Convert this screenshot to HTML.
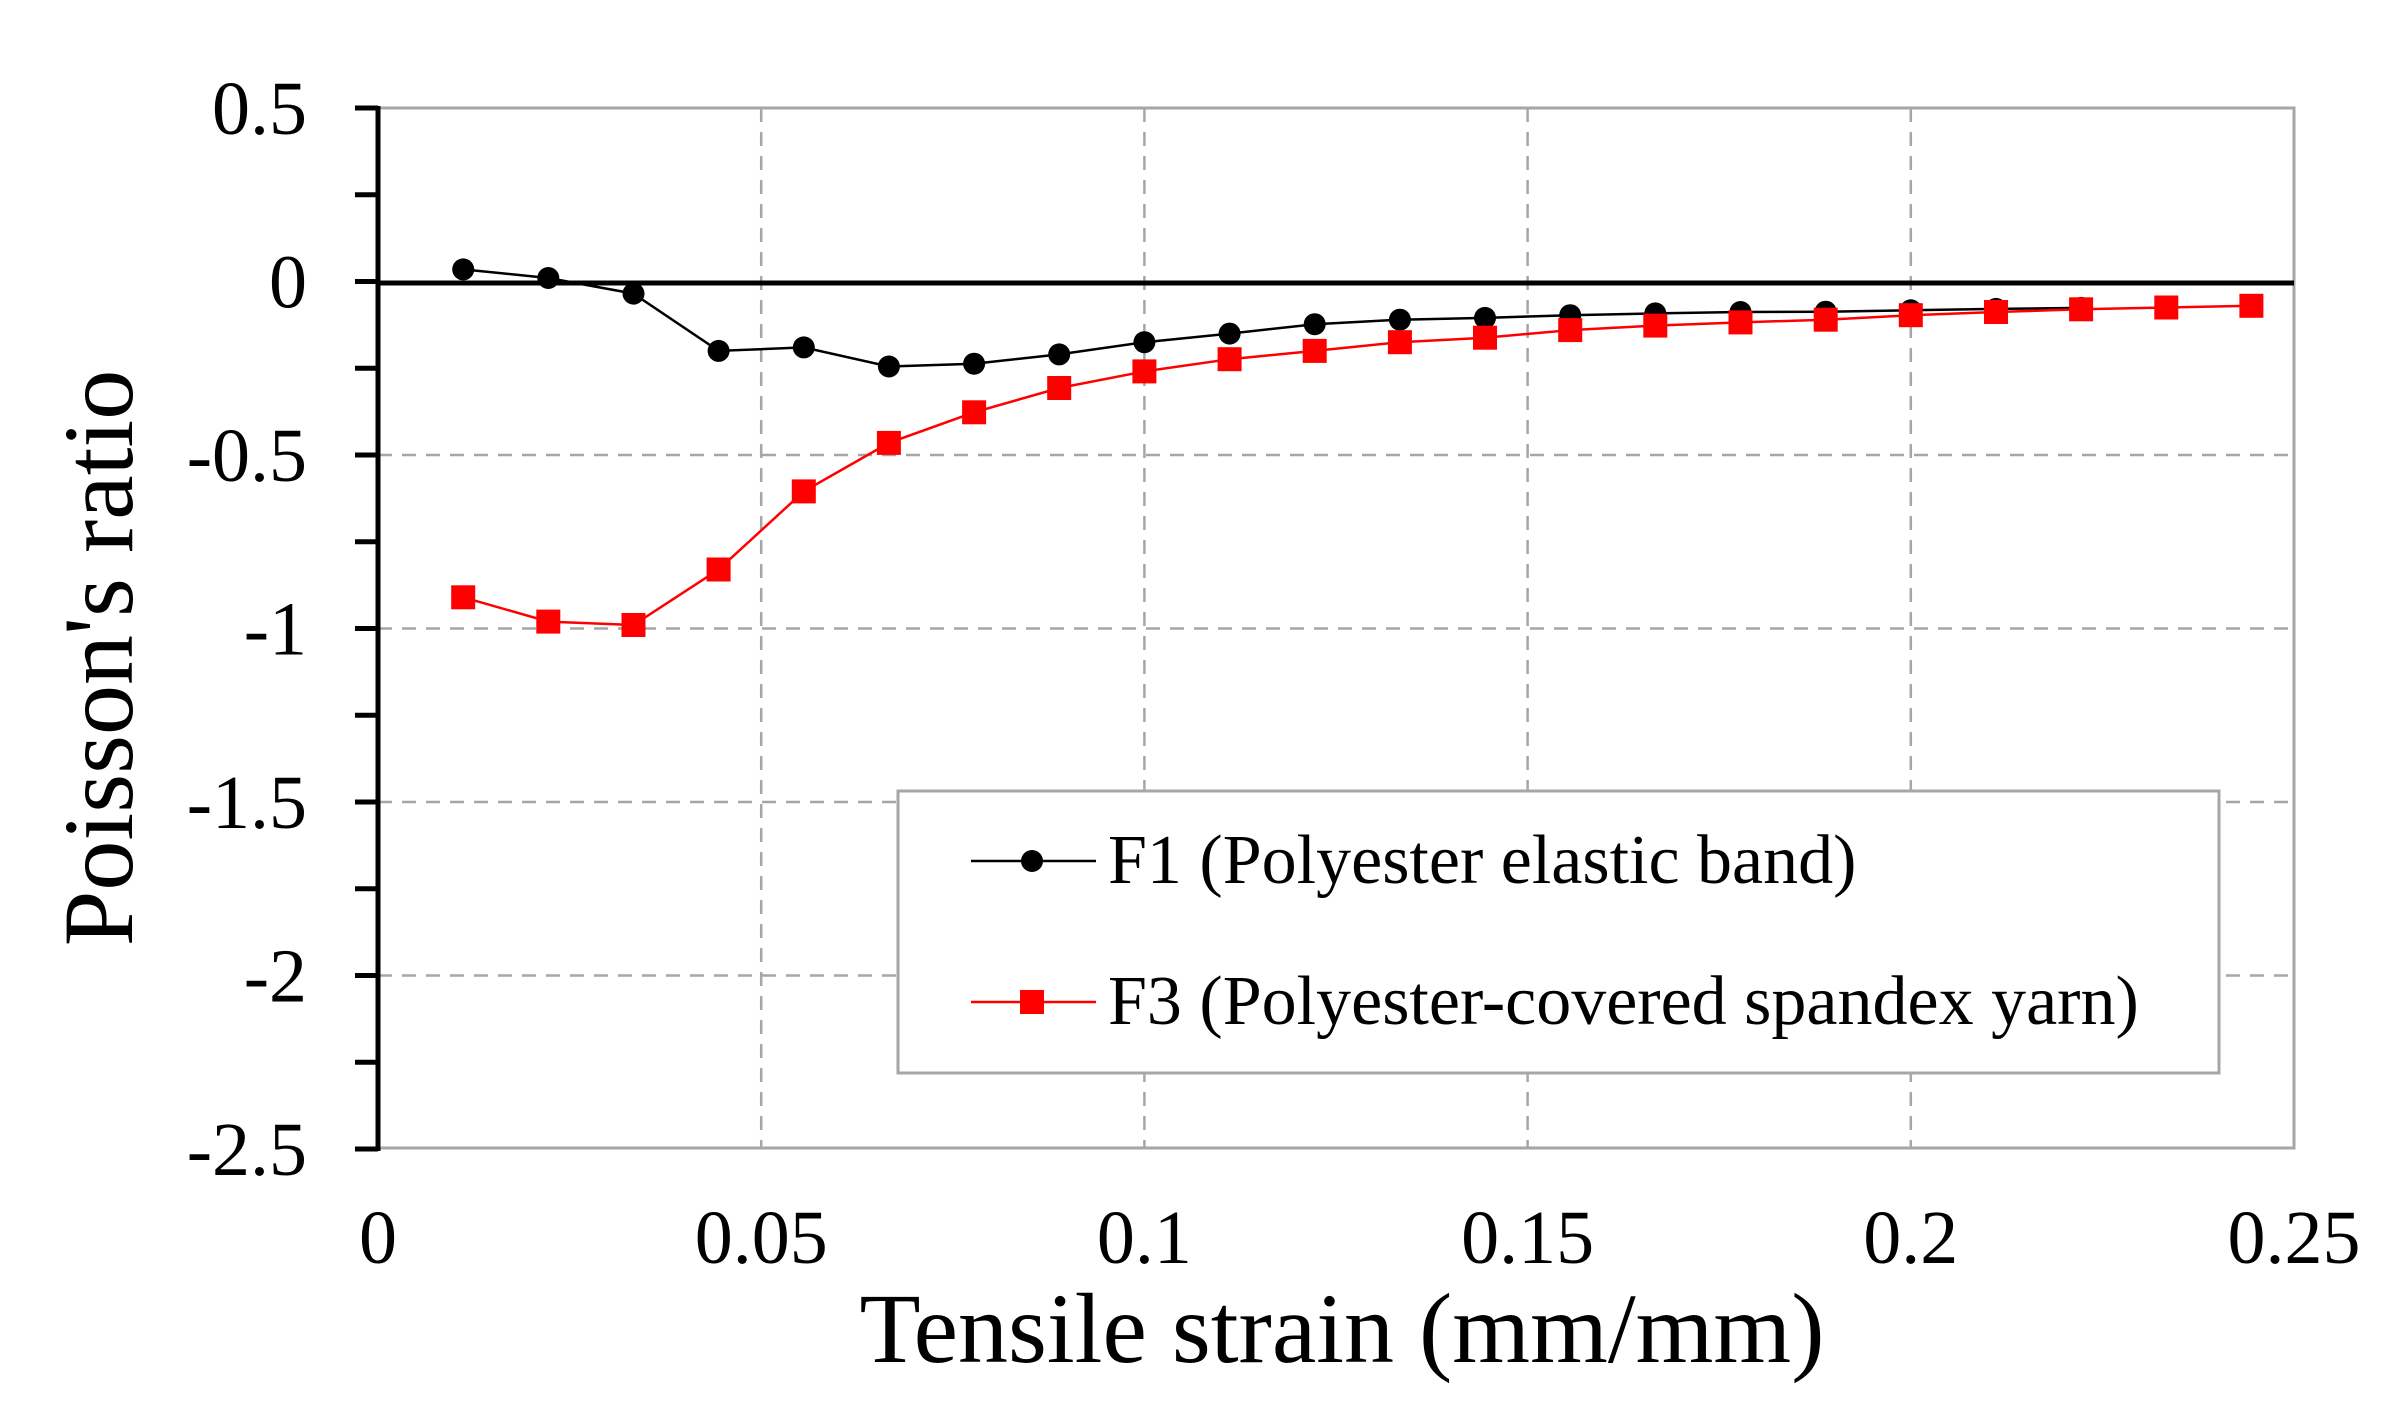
<!DOCTYPE html>
<html><head><meta charset="utf-8"><style>
html,body{margin:0;padding:0;background:#fff;}
svg{display:block;}
text{font-family:"Liberation Serif",serif;fill:#000;}
</style></head><body>
<svg width="2397" height="1415" viewBox="0 0 2397 1415" xmlns="http://www.w3.org/2000/svg">
<rect width="2397" height="1415" fill="#fff"/>
<g stroke="#a6a6a6" stroke-width="2.5" stroke-dasharray="14,10">
<line x1="761.2" y1="108" x2="761.2" y2="1148"/>
<line x1="1144.4" y1="108" x2="1144.4" y2="1148"/>
<line x1="1527.6" y1="108" x2="1527.6" y2="1148"/>
<line x1="1910.8" y1="108" x2="1910.8" y2="1148"/>
<line x1="378" y1="455" x2="2294" y2="455"/>
<line x1="378" y1="628.5" x2="2294" y2="628.5"/>
<line x1="378" y1="802" x2="2294" y2="802"/>
<line x1="378" y1="975.5" x2="2294" y2="975.5"/>
</g>
<rect x="378" y="108" width="1916" height="1040" fill="none" stroke="#a6a6a6" stroke-width="3"/>
<line x1="378" y1="283" x2="2294" y2="283" stroke="#000" stroke-width="5"/>
<line x1="378" y1="106" x2="378" y2="1151" stroke="#000" stroke-width="5"/>
<g stroke="#000" stroke-width="5">
<line x1="355" y1="108" x2="378" y2="108"/>
<line x1="355" y1="194.75" x2="378" y2="194.75"/>
<line x1="355" y1="281.5" x2="378" y2="281.5"/>
<line x1="355" y1="368.25" x2="378" y2="368.25"/>
<line x1="355" y1="455" x2="378" y2="455"/>
<line x1="355" y1="541.75" x2="378" y2="541.75"/>
<line x1="355" y1="628.5" x2="378" y2="628.5"/>
<line x1="355" y1="715.25" x2="378" y2="715.25"/>
<line x1="355" y1="802" x2="378" y2="802"/>
<line x1="355" y1="888.75" x2="378" y2="888.75"/>
<line x1="355" y1="975.5" x2="378" y2="975.5"/>
<line x1="355" y1="1062.25" x2="378" y2="1062.25"/>
<line x1="355" y1="1149" x2="378" y2="1149"/>
</g>
<g font-size="76" text-anchor="end">
<text x="307" y="134">0.5</text>
<text x="307" y="307.5">0</text>
<text x="307" y="481">-0.5</text>
<text x="307" y="654.5">-1</text>
<text x="307" y="828">-1.5</text>
<text x="307" y="1001.5">-2</text>
<text x="307" y="1175">-2.5</text>
</g>
<g font-size="76" text-anchor="middle">
<text x="378" y="1263">0</text>
<text x="761.2" y="1263">0.05</text>
<text x="1144.4" y="1263">0.1</text>
<text x="1527.6" y="1263">0.15</text>
<text x="1910.8" y="1263">0.2</text>
<text x="2294" y="1263">0.25</text>
</g>
<polyline fill="none" stroke="#000" stroke-width="2.5" points="463.2,269.4 548.3,278 633.5,293.6 718.6,350.9 803.8,347.4 888.9,366.5 974.1,363.7 1059.2,354.4 1144.4,342.2 1229.6,333.6 1314.7,324.2 1399.9,319.7 1485,317.9 1570.2,315.2 1655.3,313.4 1740.5,312 1825.7,311.7 1910.8,310.3 1996,308.9 2081.1,307.9"/>
<g fill="#000">
<circle cx="463.2" cy="269.4" r="11"/><circle cx="548.3" cy="278" r="11"/><circle cx="633.5" cy="293.6" r="11"/><circle cx="718.6" cy="350.9" r="11"/><circle cx="803.8" cy="347.4" r="11"/><circle cx="888.9" cy="366.5" r="11"/><circle cx="974.1" cy="363.7" r="11"/><circle cx="1059.2" cy="354.4" r="11"/><circle cx="1144.4" cy="342.2" r="11"/><circle cx="1229.6" cy="333.6" r="11"/><circle cx="1314.7" cy="324.2" r="11"/><circle cx="1399.9" cy="319.7" r="11"/><circle cx="1485" cy="317.9" r="11"/><circle cx="1570.2" cy="315.2" r="11"/><circle cx="1655.3" cy="313.4" r="11"/><circle cx="1740.5" cy="312" r="11"/><circle cx="1825.7" cy="311.7" r="11"/><circle cx="1910.8" cy="310.3" r="11"/><circle cx="1996" cy="308.9" r="11"/><circle cx="2081.1" cy="307.9" r="11"/>
</g>
<polyline fill="none" stroke="#f00" stroke-width="2.5" points="463.2,597.3 548.3,621.6 633.5,625 718.6,569.5 803.8,491.4 888.9,442.9 974.1,412.3 1059.2,388 1144.4,371.4 1229.6,359.2 1314.7,350.9 1399.9,342.2 1485,337.7 1570.2,330.1 1655.3,325.6 1740.5,322.4 1825.7,319.7 1910.8,315.2 1996,312 2081.1,309.3 2166.3,307.5 2251.4,305.8"/>
<g fill="#f00">
<rect x="451.2" y="585.3" width="24" height="24"/><rect x="536.3" y="609.6" width="24" height="24"/><rect x="621.5" y="613" width="24" height="24"/><rect x="706.6" y="557.5" width="24" height="24"/><rect x="791.8" y="479.4" width="24" height="24"/><rect x="876.9" y="430.9" width="24" height="24"/><rect x="962.1" y="400.3" width="24" height="24"/><rect x="1047.2" y="376" width="24" height="24"/><rect x="1132.4" y="359.4" width="24" height="24"/><rect x="1217.6" y="347.2" width="24" height="24"/><rect x="1302.7" y="338.9" width="24" height="24"/><rect x="1387.9" y="330.2" width="24" height="24"/><rect x="1473" y="325.7" width="24" height="24"/><rect x="1558.2" y="318.1" width="24" height="24"/><rect x="1643.3" y="313.6" width="24" height="24"/><rect x="1728.5" y="310.4" width="24" height="24"/><rect x="1813.7" y="307.7" width="24" height="24"/><rect x="1898.8" y="303.2" width="24" height="24"/><rect x="1984" y="300" width="24" height="24"/><rect x="2069.1" y="297.3" width="24" height="24"/><rect x="2154.3" y="295.5" width="24" height="24"/><rect x="2239.4" y="293.8" width="24" height="24"/>
</g>
<rect x="898" y="791" width="1321" height="282" fill="#fff" stroke="#a6a6a6" stroke-width="3"/>
<line x1="971" y1="861" x2="1096" y2="861" stroke="#000" stroke-width="2.5"/>
<circle cx="1032" cy="861" r="11" fill="#000"/>
<line x1="971" y1="1002" x2="1096" y2="1002" stroke="#f00" stroke-width="2.5"/>
<rect x="1020" y="990" width="24" height="24" fill="#f00"/>
<text x="1108" y="883" font-size="70">F1 (Polyester elastic band)</text>
<text x="1108" y="1024" font-size="70">F3 (Polyester-covered spandex yarn)</text>
<text x="1342" y="1362" font-size="100" text-anchor="middle">Tensile strain (mm/mm)</text>
<text transform="translate(132,658) rotate(-90)" font-size="100" text-anchor="middle">Poisson's ratio</text>
</svg>
</body></html>
